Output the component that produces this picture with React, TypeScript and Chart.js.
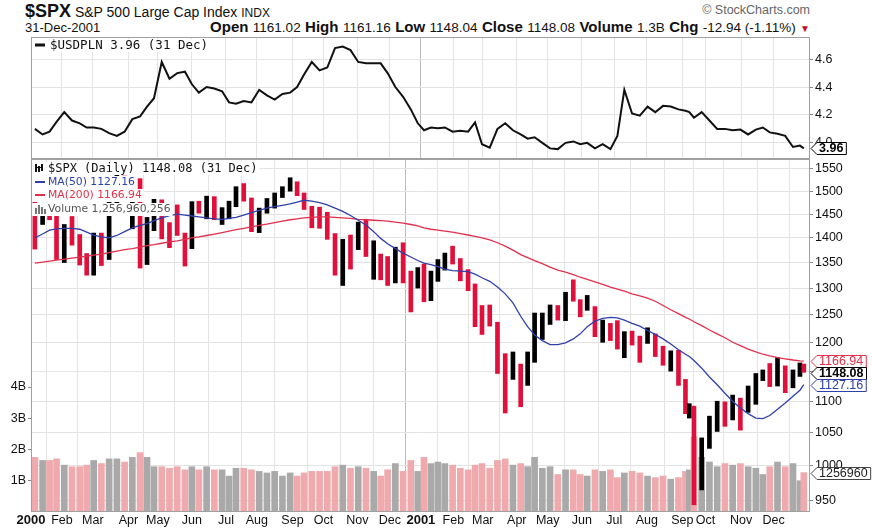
import React, { useEffect, useRef } from "react";
import { Chart, registerables } from "chart.js";
Chart.register(...registerables);

const MONTHS = ["Jan", "Feb", "Mar", "Apr", "May", "Jun", "Jul", "Aug", "Sep", "Oct", "Nov", "Dec"];

// NYSE closures 2000-2001
const HOLIDAYS = [
  "2000-01-17", "2000-02-21", "2000-04-21", "2000-05-29", "2000-07-04", "2000-09-04", "2000-11-23", "2000-12-25",
  "2001-01-01", "2001-01-15", "2001-02-19", "2001-04-13", "2001-05-28", "2001-07-04", "2001-09-03",
  "2001-09-11", "2001-09-12", "2001-09-13", "2001-09-14", "2001-11-22", "2001-12-25",
];

// Weekly S&P 500 (one entry per calendar week, from week of 3-Jan-2000 to 31-Dec-2001)
const PREV_CLOSE = 1469;
const SPX_HIGH = [
  1478, 1473, 1465, 1454, 1428, 1445, 1407, 1368, 1410, 1410, 1477, 1553, 1534, 1517, 1528, 1443, 1482, 1481, 1432, 1470,
  1410, 1477, 1478, 1489, 1488, 1464, 1478, 1510, 1517, 1485, 1463, 1484, 1496, 1510, 1530, 1521, 1496, 1467, 1465, 1454,
  1409, 1397, 1406, 1433, 1438, 1394, 1367, 1362, 1381, 1390, 1333, 1340,
  1347, 1333, 1356, 1369, 1383, 1358, 1336, 1308, 1267, 1268, 1236, 1180, 1183, 1162, 1183, 1253, 1253, 1268, 1267, 1292,
  1316, 1278, 1286, 1265, 1240, 1234, 1239, 1219, 1220, 1211, 1226, 1215, 1193, 1185, 1186, 1136, 1096, 1092, 1042, 1076,
  1100, 1099, 1110, 1105, 1125, 1146, 1152, 1163, 1173, 1159, 1152, 1164, 1162,
];
const SPX_LOW = [
  1377, 1428, 1438, 1356, 1350, 1385, 1345, 1325, 1325, 1344, 1356, 1448, 1482, 1419, 1339, 1346, 1415, 1398, 1380, 1405,
  1343, 1378, 1452, 1440, 1438, 1428, 1440, 1466, 1478, 1413, 1411, 1452, 1463, 1486, 1500, 1490, 1460, 1421, 1420, 1397,
  1325, 1305, 1337, 1376, 1362, 1317, 1316, 1305, 1310, 1310, 1255, 1300,
  1274, 1276, 1313, 1335, 1347, 1314, 1295, 1228, 1214, 1229, 1146, 1081, 1136, 1091, 1126, 1165, 1205, 1232, 1240, 1239,
  1275, 1246, 1258, 1210, 1200, 1203, 1188, 1173, 1195, 1165, 1198, 1175, 1160, 1150, 1126, 1080, 1073, 944, 965, 1026,
  1052, 1060, 1070, 1054, 1082, 1095, 1134, 1124, 1125, 1114, 1122, 1141, 1148,
];
const SPX_CLOSE = [
  1441, 1465, 1441, 1360, 1424, 1387, 1346, 1333, 1409, 1395, 1464, 1527, 1499, 1516, 1356, 1434, 1452, 1432, 1421, 1406,
  1378, 1477, 1457, 1464, 1441, 1455, 1478, 1509, 1481, 1419, 1462, 1471, 1491, 1506, 1520, 1494, 1465, 1449, 1436, 1408,
  1374, 1396, 1379, 1427, 1365, 1367, 1341, 1315, 1370, 1312, 1305, 1320,
  1298, 1318, 1342, 1354, 1349, 1315, 1301, 1246, 1234, 1233, 1151, 1140, 1160, 1128, 1184, 1243, 1253, 1267, 1246, 1292,
  1278, 1261, 1265, 1214, 1225, 1224, 1191, 1216, 1211, 1206, 1214, 1190, 1162, 1185, 1134, 1086, 1093, 966, 1041, 1071,
  1092, 1073, 1105, 1087, 1120, 1139, 1150, 1139, 1158, 1123, 1145, 1161, 1148,
];
// average daily volume, billions of shares
const VOLUME_B = [
  1.75, 1.65, 1.65, 1.7, 1.5, 1.45, 1.45, 1.5, 1.65, 1.55, 1.7, 1.7, 1.6, 1.75, 1.9, 1.75, 1.45, 1.45, 1.4, 1.45,
  1.35, 1.45, 1.35, 1.45, 1.35, 1.35, 1.15, 1.4, 1.4, 1.35, 1.3, 1.25, 1.3, 1.15, 1.25, 1.15, 1.25, 1.3, 1.3, 1.3,
  1.45, 1.5, 1.4, 1.45, 1.4, 1.3, 1.15, 1.35, 1.55, 1.3, 1.65, 1.3,
  1.75, 1.55, 1.6, 1.55, 1.5, 1.4, 1.35, 1.5, 1.55, 1.4, 1.65, 1.7, 1.5, 1.55, 1.45, 1.75, 1.4, 1.45, 1.2, 1.35,
  1.35, 1.2, 1.15, 1.35, 1.3, 1.35, 1.1, 1.25, 1.3, 1.25, 1.15, 1.1, 1.15, 1.05, 1.1, 1.3, 1.35, 2.4, 1.75, 1.6,
  1.45, 1.55, 1.5, 1.55, 1.45, 1.4, 1.2, 1.45, 1.6, 1.45, 1.55, 1.0, 1.26,
];
const MA50 = [
  1400, 1408, 1416, 1419, 1420, 1420, 1418, 1412, 1406, 1402, 1400, 1405, 1413, 1421, 1426, 1430, 1436, 1442, 1447, 1450,
  1448, 1446, 1444, 1442, 1440, 1439, 1441, 1443, 1448, 1453, 1458, 1463, 1466, 1469, 1472, 1476, 1480, 1478, 1475, 1470,
  1463, 1456, 1447, 1437, 1427, 1413, 1399, 1388, 1378, 1369, 1361, 1354,
  1349, 1346, 1342, 1337, 1334, 1333, 1332, 1327, 1320, 1313, 1302, 1289, 1272, 1247, 1228, 1213, 1203, 1196, 1196, 1199,
  1206, 1215, 1228, 1238, 1243, 1245, 1244, 1240, 1234, 1229, 1221, 1214, 1206, 1197, 1187, 1179, 1175, 1168, 1155, 1140,
  1127, 1113, 1100, 1089, 1080, 1073, 1072, 1077, 1087, 1097, 1108, 1118, 1127.16,
];
const MA200 = [
  1349, 1351, 1353, 1355, 1357, 1359, 1361, 1363, 1365, 1367, 1370, 1373, 1376, 1378, 1381, 1384, 1386, 1389, 1392, 1394,
  1397, 1400, 1402, 1405, 1408, 1411, 1414, 1417, 1420, 1423, 1426, 1429, 1432, 1435, 1438, 1440, 1442, 1443, 1444, 1444,
  1443, 1442, 1441, 1439, 1438, 1437, 1436, 1435, 1433, 1431, 1428, 1425,
  1421, 1418, 1416, 1414, 1412, 1409, 1406, 1403, 1400, 1396, 1390, 1383, 1375, 1366, 1360, 1354, 1348, 1341, 1335, 1331,
  1326, 1321, 1317, 1312, 1307, 1302, 1298, 1294, 1289, 1285, 1281, 1275, 1267, 1259, 1252, 1245, 1242, 1237, 1230, 1222,
  1215, 1208, 1200, 1194, 1188, 1183, 1179, 1176, 1173, 1171, 1169, 1167.5, 1166.94,
];
const USDPLN = [
  4.10, 4.06, 4.08, 4.15, 4.22, 4.16, 4.14, 4.11, 4.11, 4.10, 4.07, 4.05, 4.08, 4.17, 4.19, 4.26, 4.32, 4.58, 4.46, 4.50,
  4.51, 4.42, 4.36, 4.40, 4.39, 4.37, 4.29, 4.28, 4.30, 4.29, 4.38, 4.34, 4.31, 4.35, 4.36, 4.40, 4.49, 4.58, 4.52, 4.54,
  4.68, 4.69, 4.665, 4.58, 4.57, 4.57, 4.57, 4.50, 4.40, 4.33, 4.24, 4.14,
  4.09, 4.11, 4.105, 4.11, 4.08, 4.087, 4.08, 4.147, 3.99, 3.966, 4.10, 4.14, 4.09, 4.06, 4.03, 4.04, 4.00, 3.96, 3.955, 4.00,
  4.01, 3.99, 4.00, 3.96, 3.99, 3.955, 4.05, 4.38, 4.21, 4.195, 4.26, 4.22, 4.265, 4.26, 4.24, 4.23, 4.22, 4.18, 4.22, 4.16,
  4.10, 4.10, 4.09, 4.095, 4.06, 4.095, 4.11, 4.075, 4.065, 4.05, 3.97, 3.98, 3.96,
];

const PRICE_TICKS = [950, 1000, 1050, 1100, 1150, 1200, 1250, 1300, 1350, 1400, 1450, 1500, 1550];
const USD_TICKS = [4.0, 4.2, 4.4, 4.6];
const VOL_TICKS = [1, 2, 3, 4];

const LAST = { close: 1148.08, ma50: 1127.16, ma200: 1166.94, vol: 1256960256, usd: 3.96 };

const FONT = '"Liberation Sans", Arial, Helvetica, sans-serif';
const LFONT = '"DejaVu Sans", Verdana, sans-serif';
const MFONT = '"DejaVu Sans Mono", monospace';
const UP = "#000000";
const DOWN = "#e0103c";
const VOL_UP = "#a9a9a9";
const VOL_DOWN = "#f0a9ad";
const BLUE = "#3040a8";
const RED = "#e2304c";
const GRID = "#e3e3e3";
const YEAR_GRID = "#bcbcbc";
const FRAME = "#a0a0a0";

function buildCalendar() {
  const DAY = 86400000;
  const start = Date.UTC(2000, 0, 3);
  const end = Date.UTC(2001, 11, 31);
  const hol = new Set(HOLIDAYS);
  const weeks: number[][] = [];
  const monthTicks: { idx: number; label: string; year: boolean }[] = [];
  let idx = 0;
  let lastMonth = -1;
  for (let t = start; t <= end; t += DAY) {
    const d = new Date(t);
    const dow = d.getUTCDay();
    if (dow === 0 || dow === 6) continue;
    if (hol.has(d.toISOString().slice(0, 10))) continue;
    const w = Math.floor((t - start) / (7 * DAY));
    (weeks[w] = weeks[w] || []).push(idx);
    const m = d.getUTCMonth();
    if (m !== lastMonth) {
      monthTicks.push({ idx, label: m === 0 ? String(d.getUTCFullYear()) : MONTHS[m], year: m === 0 });
      lastMonth = m;
    }
    idx++;
  }
  const centers = weeks.map((a) => (a[0] + a[a.length - 1]) / 2);
  return { centers, monthTicks, total: idx };
}

function xScale(cal: ReturnType<typeof buildCalendar>, labels: boolean): any {
  return {
    type: "linear",
    min: -0.5,
    max: cal.total + 3,
    offset: false,
    afterBuildTicks: (s: any) => {
      s.ticks = cal.monthTicks.map((t) => ({ value: t.idx - 0.5 }));
    },
    ticks: {
      display: labels,
      autoSkip: false,
      maxRotation: 0,
      minRotation: 0,
      padding: 1,
      color: "#111",
      callback: (_v: any, i: number) => (cal.monthTicks[i] ? cal.monthTicks[i].label : ""),
      font: (ctx: any) =>
        cal.monthTicks[ctx.index] && cal.monthTicks[ctx.index].year
          ? { family: FONT, size: 13, weight: "bold" }
          : { family: FONT, size: 12.5 },
    },
    grid: {
      color: (ctx: any) => (cal.monthTicks[ctx.index] && cal.monthTicks[ctx.index].year ? YEAR_GRID : GRID),
      drawTicks: false,
      lineWidth: 1,
    },
    border: { display: false },
    afterFit: (s: any) => {
      s.height = labels ? 16 : 0;
      s.paddingLeft = 0;
      s.paddingRight = 0;
    },
  };
}

function framePlugin(): any {
  return {
    id: "frame",
    afterDraw(chart: any) {
      const { ctx, chartArea: a } = chart;
      ctx.save();
      ctx.strokeStyle = FRAME;
      ctx.lineWidth = 1;
      ctx.strokeRect(Math.round(a.left) + 0.5, Math.round(a.top) + 0.5, Math.round(a.right - a.left) - 1, Math.round(a.bottom - a.top) - 1);
      ctx.restore();
    },
  };
}

type LegendLine = { dy: number; text: string; color: string; icon: "ohlc" | "line" | "thick" | "vol"; iconColor: string; font: string };

function legendPlugin(lines: LegendLine[]): any {
  return {
    id: "legendText",
    afterDatasetsDraw(chart: any) {
      const { ctx, chartArea: a } = chart;
      ctx.save();
      ctx.textBaseline = "middle";
      lines.forEach((ln) => {
        ctx.font = ln.font;
        const y = Math.round(a.top + ln.dy);
        const tx = a.left + (ln.icon === "thick" ? 19 : 17);
        const tw = ctx.measureText(ln.text).width;
        ctx.fillStyle = "#fff";
        ctx.fillRect(a.left + 1, y - 6, tx - a.left + tw + 1, 13);
        ctx.fillStyle = ln.iconColor;
        const ix = a.left + 4;
        if (ln.icon === "ohlc") {
          ctx.fillRect(ix, y - 4, 2, 8);
          ctx.fillRect(ix + 3, y - 2, 2, 6);
          ctx.fillRect(ix + 6, y - 4, 2, 7);
          ctx.fillRect(ix + 2, y - 1, 5, 1);
        } else if (ln.icon === "line") {
          ctx.fillRect(ix, y - 1, 10, 2);
        } else if (ln.icon === "thick") {
          ctx.fillRect(ix, y - 1.5, 10, 3);
        } else {
          ctx.fillRect(ix, y - 1, 2, 6);
          ctx.fillRect(ix + 3, y - 4, 2, 9);
          ctx.fillRect(ix + 6, y - 2, 2, 7);
          ctx.fillRect(ix + 9, y, 2, 5);
        }
        ctx.fillStyle = ln.color;
        ctx.fillText(ln.text, tx, y + 0.5);
      });
      ctx.restore();
    },
  };
}

type Tag = { value: number; axis: string; text: string; color: string; border: string; bold: boolean };

function tagPlugin(tags: Tag[]): any {
  return {
    id: "tags",
    afterDraw(chart: any) {
      const { ctx, chartArea: a } = chart;
      const H = 12;
      const items = tags
        .map((t) => ({ ...t, y: chart.scales[t.axis].getPixelForValue(t.value) }))
        .sort((p, q) => p.y - q.y);
      for (let i = 1; i < items.length; i++) {
        if (items[i].axis === items[i - 1].axis && items[i].y < items[i - 1].y + H) items[i].y = items[i - 1].y + H;
      }
      ctx.save();
      items.forEach((t) => {
        ctx.font = `${t.bold ? "bold " : ""}12.5px ${FONT}`;
        const tw = ctx.measureText(t.text).width;
        const x0 = a.right + 1;
        const x1 = x0 + 7 + tw + 4;
        const y = Math.round(t.y) + 0.5;
        ctx.beginPath();
        ctx.moveTo(x0, y);
        ctx.lineTo(x0 + 6, y - H / 2);
        ctx.lineTo(x1, y - H / 2);
        ctx.lineTo(x1, y + H / 2);
        ctx.lineTo(x0 + 6, y + H / 2);
        ctx.closePath();
        ctx.fillStyle = "#fff";
        ctx.fill();
        ctx.lineWidth = 1;
        ctx.strokeStyle = t.border;
        ctx.stroke();
        ctx.fillStyle = t.color;
        ctx.textBaseline = "middle";
        ctx.fillText(t.text, x0 + 8, y + 0.5);
      });
      ctx.restore();
    },
  };
}

export default function App() {
  const topRef = useRef<HTMLCanvasElement>(null);
  const mainRef = useRef<HTMLCanvasElement>(null);

  useEffect(() => {
    const cal = buildCalendar();
    const ups = SPX_CLOSE.map((c, i) => c >= (i ? SPX_CLOSE[i - 1] : PREV_CLOSE));

    const rightAxisFit = (s: any) => {
      s.width = 62;
      s.paddingTop = 0;
      s.paddingBottom = 0;
    };

    const top = new Chart(topRef.current as HTMLCanvasElement, {
      type: "line",
      data: {
        datasets: [
          {
            data: cal.centers.map((x, i) => ({ x, y: USDPLN[i] })),
            borderColor: "#111",
            borderWidth: 2,
            pointRadius: 0,
            tension: 0,
          },
        ],
      },
      options: {
        responsive: false,
        animation: false,
        events: [],
        layout: { padding: { left: 31, top: 7, right: 0, bottom: 0 } },
        plugins: { legend: { display: false }, tooltip: { enabled: false } },
        scales: {
          x: xScale(cal, false),
          y: {
            type: "linear",
            position: "right",
            min: 3.884,
            max: 4.759,
            afterBuildTicks: (s: any) => {
              s.ticks = USD_TICKS.map((v) => ({ value: v }));
            },
            ticks: { color: "#111", padding: 2, font: { family: FONT, size: 12.5 }, callback: (v: any) => Number(v).toFixed(1) },
            grid: { color: GRID, tickLength: 3, tickColor: "#888" },
            border: { display: false },
            afterFit: rightAxisFit,
          },
        },
      } as any,
      plugins: [
        framePlugin(),
        legendPlugin([
          { dy: 8, text: "$USDPLN 3.96 (31 Dec)", color: "#111", icon: "thick", iconColor: "#111", font: `12.5px ${MFONT}` },
        ]),
        tagPlugin([{ value: LAST.usd, axis: "y", text: "3.96", color: "#000", border: "#000", bold: true }]),
      ],
    });

    const main = new Chart(mainRef.current as HTMLCanvasElement, {
      type: "bar",
      data: {
        datasets: [
          {
            type: "line",
            data: cal.centers.map((x, i) => ({ x, y: MA50[i] })),
            yAxisID: "y",
            borderColor: BLUE,
            borderWidth: 1.3,
            pointRadius: 0,
            tension: 0,
            order: 0,
          },
          {
            type: "line",
            data: cal.centers.map((x, i) => ({ x, y: MA200[i] })),
            yAxisID: "y",
            borderColor: RED,
            borderWidth: 1.3,
            pointRadius: 0,
            tension: 0,
            order: 0,
          },
          {
            type: "bar",
            data: cal.centers.map((x, i) => ({ x, y: [SPX_LOW[i], SPX_HIGH[i]] })),
            yAxisID: "y",
            backgroundColor: ups.map((u) => (u ? UP : DOWN)),
            barThickness: 4,
            grouped: false,
            borderWidth: 0,
            order: 1,
          },
          {
            type: "bar",
            data: cal.centers.map((x, i) => ({ x, y: VOLUME_B[i] * 1e9 })),
            yAxisID: "vol",
            backgroundColor: ups.map((u) => (u ? VOL_UP : VOL_DOWN)),
            barThickness: 6,
            grouped: false,
            borderWidth: 0,
            order: 2,
          },
        ],
      },
      options: {
        responsive: false,
        animation: false,
        events: [],
        layout: { padding: { left: 0, top: 1, right: 0, bottom: 0 } },
        plugins: { legend: { display: false }, tooltip: { enabled: false } },
        scales: {
          x: xScale(cal, true),
          y: {
            type: "logarithmic",
            position: "right",
            min: 934,
            max: 1573,
            afterBuildTicks: (s: any) => {
              s.ticks = PRICE_TICKS.map((v) => ({ value: v }));
            },
            ticks: { color: "#111", padding: 2, font: { family: FONT, size: 12.5 }, callback: (v: any) => String(v) },
            grid: { color: GRID, tickLength: 3, tickColor: "#888" },
            border: { display: false },
            afterFit: rightAxisFit,
          },
          vol: {
            type: "linear",
            position: "left",
            min: 0,
            max: 11.3e9,
            afterBuildTicks: (s: any) => {
              s.ticks = VOL_TICKS.map((v) => ({ value: v * 1e9 }));
            },
            ticks: { color: "#111", padding: 2, font: { family: FONT, size: 12.5 }, callback: (v: any) => `${Number(v) / 1e9}B` },
            grid: { drawOnChartArea: false, tickLength: 3, color: "#888" },
            border: { display: false },
            afterFit: (s: any) => {
              s.width = 31;
              s.paddingTop = 0;
              s.paddingBottom = 0;
            },
          },
        },
      } as any,
      plugins: [
        framePlugin(),
        legendPlugin([
          { dy: 8.5, text: "$SPX (Daily) 1148.08 (31 Dec)", color: "#111", icon: "ohlc", iconColor: "#111", font: `12px ${MFONT}` },
          { dy: 22.5, text: "MA(50) 1127.16", color: BLUE, icon: "line", iconColor: BLUE, font: `10.8px ${LFONT}` },
          { dy: 36, text: "MA(200) 1166.94", color: RED, icon: "line", iconColor: RED, font: `10.8px ${LFONT}` },
          { dy: 49.5, text: "Volume 1,256,960,256", color: "#555", icon: "vol", iconColor: "#777", font: `10.8px ${LFONT}` },
        ]),
        tagPlugin([
          { value: LAST.ma200, axis: "y", text: "1166.94", color: RED, border: RED, bold: false },
          { value: LAST.close, axis: "y", text: "1148.08", color: "#000", border: "#000", bold: true },
          { value: LAST.ma50, axis: "y", text: "1127.16", color: BLUE, border: BLUE, bold: false },
          { value: LAST.vol, axis: "vol", text: "1256960", color: "#222", border: "#444", bold: false },
        ]),
      ],
    });

    return () => {
      top.destroy();
      main.destroy();
    };
  }, []);

  const lbl: React.CSSProperties = { fontWeight: "bold", fontSize: 15 };
  const val: React.CSSProperties = { fontSize: 13.5 };

  return (
    <div
      style={{
        position: "absolute",
        left: 0,
        top: 0,
        width: 872,
        height: 528,
        background: "#fff",
        overflow: "hidden",
        fontFamily: FONT,
        color: "#111",
      }}
    >
      <div style={{ position: "absolute", left: 25, top: 1, whiteSpace: "nowrap", lineHeight: "20px" }}>
        <span style={{ fontWeight: "bold", fontSize: 18 }}>$SPX</span>
        <span style={{ fontSize: 14 }}> S&amp;P 500 Large Cap Index </span>
        <span style={{ fontSize: 12 }}>INDX</span>
      </div>
      <div style={{ position: "absolute", right: 62, top: 3, fontSize: 12.5, color: "#666", whiteSpace: "nowrap" }}>
        © StockCharts.com
      </div>
      <div style={{ position: "absolute", left: 25, top: 20, fontSize: 13, whiteSpace: "nowrap", lineHeight: "16px" }}>31-Dec-2001</div>
      <div style={{ position: "absolute", right: 62, top: 19, whiteSpace: "nowrap", lineHeight: "16px" }}>
        <span style={lbl}>Open</span> <span style={val}>1161.02</span> <span style={lbl}>High</span> <span style={val}>1161.16</span>{" "}
        <span style={lbl}>Low</span> <span style={val}>1148.04</span> <span style={lbl}>Close</span> <span style={val}>1148.08</span>{" "}
        <span style={lbl}>Volume</span> <span style={val}>1.3B</span> <span style={lbl}>Chg</span> <span style={val}>-12.94 (-1.11%)</span>{" "}
        <span style={{ color: "#c0102c", fontSize: 10 }}>▼</span>
      </div>
      <canvas ref={topRef} width={872} height={129} style={{ position: "absolute", left: 0, top: 30, width: 872, height: 129 }} />
      <canvas ref={mainRef} width={872} height={370} style={{ position: "absolute", left: 0, top: 158, width: 872, height: 370 }} />
    </div>
  );
}
